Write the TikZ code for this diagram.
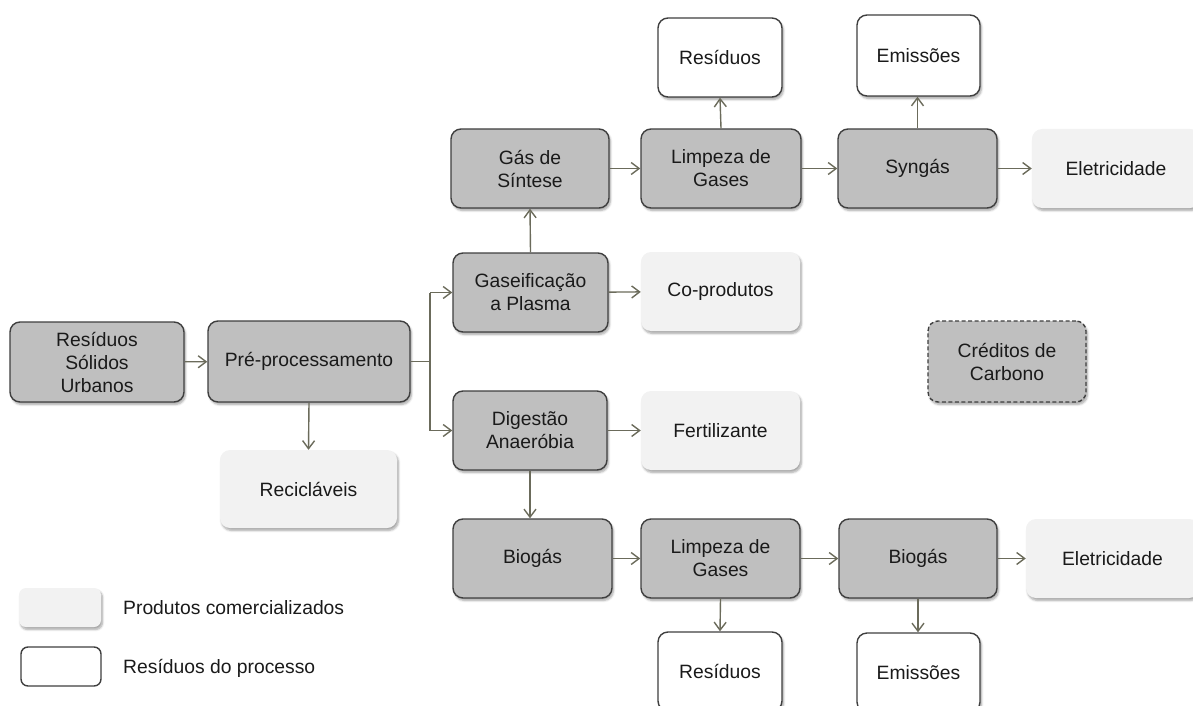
\documentclass[tikz,border=0pt]{standalone}
\usepackage{fontspec}
\setmainfont{Liberation Sans}
\usetikzlibrary{arrows.meta,shadows.blur}
\definecolor{procfill}{HTML}{BFBFBF}
\definecolor{prodfill}{HTML}{F2F2F2}
\definecolor{edge}{HTML}{3F3F3F}
\definecolor{flow}{HTML}{6B6B5B}
\definecolor{ink}{HTML}{1A1A1A}
\tikzset{
  box/.style={rounded corners=10pt, align=center, inner sep=0pt, text=ink,
    font=\fontsize{19.3}{23}\selectfont,
    blur shadow={shadow xshift=1.5pt, shadow yshift=-2.5pt, shadow blur steps=6, shadow opacity=35}},
  proc/.style={box, fill=procfill, draw=edge, line width=1.4pt},
  prod/.style={box, fill=prodfill},
  waste/.style={box, fill=white, draw=edge, line width=1.4pt},
  credit/.style={box, fill=procfill, draw=edge, line width=1.4pt, dashed, dash pattern=on 4pt off 2.5pt},
  sz/.style n args={2}{minimum width=#1pt, minimum height=#2pt},
  flowline/.style={draw=flow, line width=1.4pt},
  arr/.style={flowline, -{Straight Barb[length=8pt, width=12pt, line width=1.4pt]}},
  legendtext/.style={anchor=west, inner sep=0pt, text=ink, font=\fontsize{19.3}{23}\selectfont}
}
\begin{document}
\begin{tikzpicture}[x=1pt, y=-1pt]
\useasboundingbox (0,0) rectangle (1193,706);

% main chain
\node[proc, sz={174}{80}] (rsu) at (97,362) {Resíduos\\Sólidos\\Urbanos};
\node[proc, sz={202}{81}] (pre) at (309,361.5) {Pré-processamento};
\node[prod, sz={177}{78}] (rec) at (308.5,489) {Recicláveis};

% plasma route
\node[proc, sz={155}{79}] (gas) at (530.5,292.5) {Gaseificação\\a Plasma};
\node[prod, sz={159}{79}] (cop) at (720.5,291.5) {Co-produtos};
\node[proc, sz={158}{79}] (sint) at (530,168.5) {Gás de\\Síntese};
\node[proc, sz={160}{79}] (limpA) at (721,168.5) {Limpeza de\\Gases};
\node[waste, sz={124}{79}] (resA) at (720,57.5) {Resíduos};
\node[proc, sz={159}{79}] (syn) at (917.5,168.5) {Syngás};
\node[waste, sz={123}{81}] (emiA) at (918.5,55.5) {Emissões};
\node[prod, sz={168}{79}] (eleA) at (1116,168.5) {Eletricidade};

% carbon credits
\node[credit, sz={158}{81}] (cred) at (1007,361.5) {Créditos de\\Carbono};

% anaerobic route
\node[proc, sz={154}{79}] (dig) at (530,430.5) {Digestão\\Anaeróbia};
\node[prod, sz={159}{79}] (fert) at (720.5,430.5) {Fertilizante};
\node[proc, sz={159}{79}] (bioA) at (532.5,558.5) {Biogás};
\node[proc, sz={159}{79}] (limpB) at (720.5,558.5) {Limpeza de\\Gases};
\node[waste, sz={124}{79}] (resB) at (720,671.5) {Resíduos};
\node[proc, sz={158}{79}] (bioB) at (918,558.5) {Biogás};
\node[waste, sz={123}{79}] (emiB) at (918.5,672.5) {Emissões};
\node[prod, sz={173}{79}] (eleB) at (1112.5,558.5) {Eletricidade};

% legend
\node[prod, sz={82}{39}, rounded corners=7pt] (legP) at (60,607.5) {};
\node[waste, sz={80}{39}, rounded corners=7pt, blur shadow={shadow opacity=0}] (legW) at (61,666.5) {};
\node[legendtext] (legPt) at (123,608) {Produtos comercializados};
\node[legendtext] (legWt) at (123,668) {Resíduos do processo};

% connectors
\coordinate (fork) at (430,361.5);
\coordinate (forkUp) at (430,292.5);
\coordinate (forkDn) at (430,430.5);

\draw[arr] (rsu) -- (pre);
\draw[flowline] (pre.east) -- (fork);
\draw[flowline] (forkUp) -- (forkDn);
\draw[arr] (forkUp) -- (gas.west);
\draw[arr] (forkDn) -- (dig.west);
\draw[arr] (pre.south) -- (rec.north);

\draw[arr] (gas.north) -- (sint.south);
\draw[arr] (gas) -- (cop);
\draw[arr] (sint) -- (limpA);
\draw[arr] (limpA.north) -- (resA.south);
\draw[arr] (limpA) -- (syn);
\draw[arr] (syn.north) -- (syn.north |- emiA.south);
\draw[arr] (syn) -- (syn -| eleA.west);

\draw[arr] (dig) -- (fert);
\draw[arr] (dig.south) -- (bioA.north -| dig.south);
\draw[arr] (bioA) -- (limpB);
\draw[arr] (limpB.south) -- (resB.north);
\draw[arr] (limpB) -- (bioB);
\draw[arr] (bioB.south) -- (bioB.south |- emiB.north);
\draw[arr] (bioB) -- (eleB);
\end{tikzpicture}
\end{document}
